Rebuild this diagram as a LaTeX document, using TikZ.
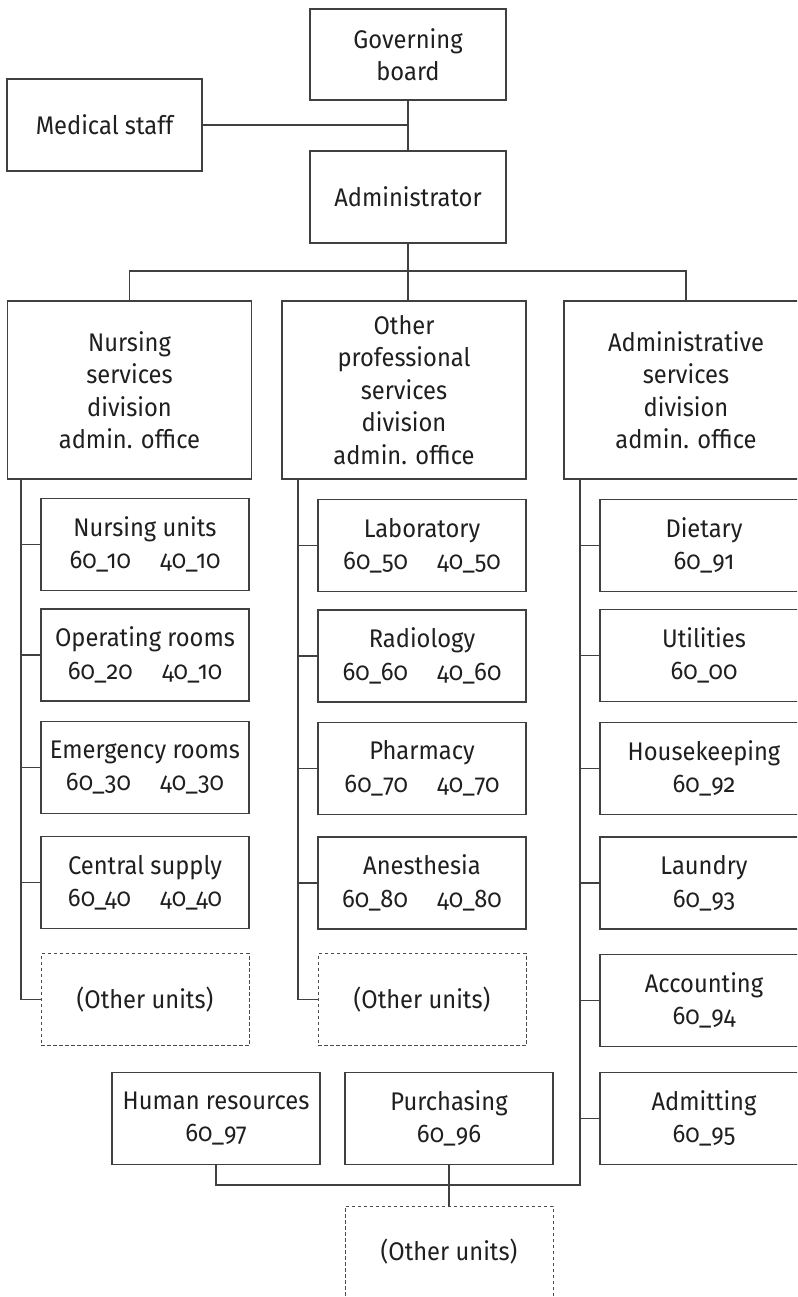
\documentclass[tikz,border=0pt]{standalone}
\usepackage{fontspec}
\setmainfont{Fira Sans}[Numbers=OldStyle, FakeStretch=0.93]
\begin{document}
\begin{tikzpicture}[x=1pt,y=-1pt,
  every node/.style={text=black!88},
  unit/.style={draw=black!75, line width=1.2pt, minimum width=208pt, minimum height=92pt,
    inner sep=0pt, align=center, font=\fontsize{25.5}{32.5}\selectfont},
  head/.style={unit, minimum width=244pt, minimum height=178pt},
  top/.style={unit, minimum width=196pt, minimum height=91pt},
  other/.style={unit, draw=black!70, line width=1pt, dash pattern=on 3.5pt off 2.5pt},
  link/.style={draw=black!75, line width=1.2pt}]
\useasboundingbox (0,0) rectangle (797,1297);
\clip (0,0) rectangle (797,1297);

% top of the chart
\node[top] (gov) at (408,54.5) {Governing\\board};
\node[top, minimum width=195pt, minimum height=92pt] (med) at (104.5,125) {Medical staff};
\node[top, minimum height=92pt] (adm) at (408,197) {Administrator};

% division heads
\node[head] (nurs) at (129.5,390) {Nursing\\services\\division\\admin. office};
\node[head] (oth) at (404,390) {Other\\professional\\services\\division\\admin. office};
\node[head] (adms) at (686,390) {Administrative\\services\\division\\admin. office};

% nursing services units
\node[unit] (n1) at (145,544.5) {Nursing units\\60\_10\hspace{1.15em}40\_10};
\node[unit] (n2) at (145,655) {Operating rooms\\60\_20\hspace{1.15em}40\_10};
\node[unit] (n3) at (145,767.5) {Emergency rooms\\60\_30\hspace{1.15em}40\_30};
\node[unit] (n4) at (145,882.5) {Central supply\\60\_40\hspace{1.15em}40\_40};
\node[other] (n5) at (145,999.5) {(Other units)};

% other professional services units
\node[unit] (p1) at (422,545.5) {Laboratory\\60\_50\hspace{1.15em}40\_50};
\node[unit] (p2) at (422,656) {Radiology\\60\_60\hspace{1.15em}40\_60};
\node[unit] (p3) at (422,768.5) {Pharmacy\\60\_70\hspace{1.15em}40\_70};
\node[unit] (p4) at (422,883) {Anesthesia\\60\_80\hspace{1.15em}40\_80};
\node[other] (p5) at (422,999.5) {(Other units)};

% administrative services units
\node[unit] (a1) at (704,545.5) {Dietary\\60\_91};
\node[unit] (a2) at (704,655.5) {Utilities\\60\_00};
\node[unit] (a3) at (704,768.5) {Housekeeping\\60\_92};
\node[unit] (a4) at (704,883) {Laundry\\60\_93};
\node[unit] (a5) at (704,1000.5) {Accounting\\60\_94};
\node[unit] (a6) at (704,1118.5) {Admitting\\60\_95};
\node[unit] (hr) at (216,1118.5) {Human resources\\60\_97};
\node[unit] (pur) at (449,1118.5) {Purchasing\\60\_96};
\node[other] (a7) at (449,1252) {(Other units)};

% spine and bus points
\coordinate (bus) at (408,271);
\coordinate (s1) at (21,479);
\coordinate (s2) at (298,479);
\coordinate (s3) at (580,479);
\coordinate (b2) at (580,1185);

% connectors at the top
\draw[link] (gov.south) -- (adm.north);
\draw[link] (med.east) -- (med.east -| gov.south);
\draw[link] (adm.south) -- (bus);
\draw[link] (nurs.north) |- (bus) -| (adms.north);
\draw[link] (bus) -- (bus |- oth.north);

% nursing spine
\draw[link] (s1) |- (n5.west);
\foreach \n in {n1,n2,n3,n4}
  \draw[link] (\n.west -| s1) -- (\n.west);

% other professional spine
\draw[link] (s2) |- (p5.west);
\foreach \n in {p1,p2,p3,p4}
  \draw[link] (\n.west -| s2) -- (\n.west);

% administrative spine
\draw[link] (s3) -- (b2) -| (hr.south);
\foreach \n in {a1,a2,a3,a4,a5,a6}
  \draw[link] (\n.west -| s3) -- (\n.west);
\draw[link] (pur.south) -- (a7.north);
\end{tikzpicture}
\end{document}
